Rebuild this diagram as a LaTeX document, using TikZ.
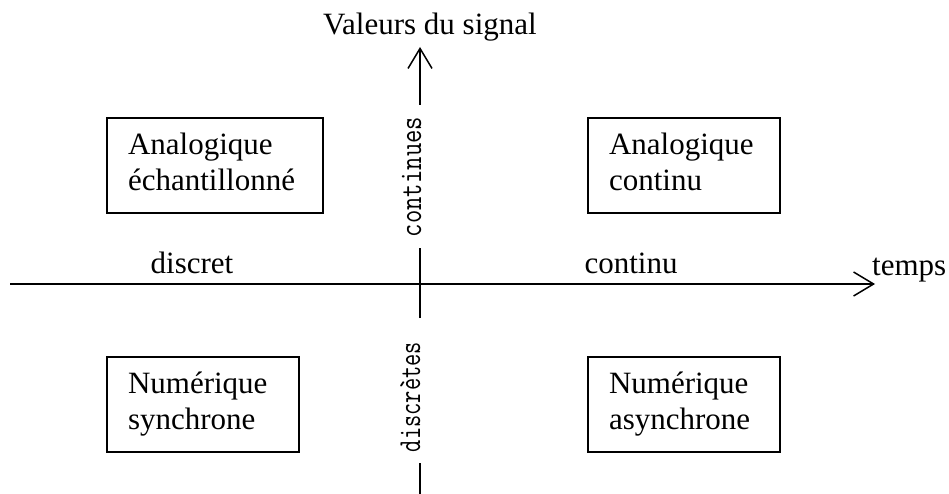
\documentclass[tikz,border=0pt]{standalone}
\usepackage{fontspec}
\usepackage{graphicx}
\setmainfont{Liberation Serif}
\usetikzlibrary{arrows.meta}
\begin{document}
\begin{tikzpicture}[x=1pt,y=-1pt,
  lbl/.style={font=\fontsize{31}{36}\selectfont, inner sep=0pt},
  box/.style={draw, line width=1.5pt, font=\fontsize{31}{36}\selectfont, align=flush left,
              inner xsep=21pt, inner ysep=0pt, minimum height=95pt},
  vlbl/.style={font=\ttfamily\fontsize{32}{36}\selectfont, rotate=90, inner sep=0pt, anchor=base},
  axis/.style={line width=1.5pt},
  arr/.style={-{Straight Barb[length=20pt,width=24pt]}}
]
\fill[white] (0,0) rectangle (949,494);
\useasboundingbox (0,0) rectangle (949,494);

% boxes
\node[box, text width=174pt] (as) at (215,165.5) {\strut Analogique\\ échantillonné\strut};
\node[box, text width=150pt] (ac) at (684,165.5) {\strut Analogique\\ continu\strut};
\node[box, text width=150pt] (ns) at (203,404.5) {\strut Numérique\\ synchrone\strut};
\node[box, text width=150pt] (na) at (684,404.5) {\strut Numérique\\ asynchrone\strut};

% labels
\node[lbl, anchor=base] (title) at (430,35) {Valeurs du signal};
\node[lbl, anchor=base] (disc) at (192,273) {discret};
\node[lbl, anchor=base] (cont) at (631,273) {continu};
\node[lbl, anchor=base west] (temps) at (872,275) {temps};

\node[vlbl] (vc) at (421,177) {\resizebox{120pt}{\height}{continues}};
\node[vlbl] (vd) at (420,397) {\resizebox{110pt}{\height}{discrètes}};

% axes
\coordinate (h0) at (10,284);
\coordinate (h1) at (875,284);
\draw[axis,arr] (h0) -- (h1);

\coordinate (v0) at (420,494);
\coordinate (v1) at (420,463);
\coordinate (v2) at (420,318);
\coordinate (v3) at (420,248);
\coordinate (v4) at (420,105);
\coordinate (v5) at (420,47);
\draw[axis] (v0) -- (v1);
\draw[axis] (v2) -- (v3);
\draw[axis,arr] (v4) -- (v5);
\end{tikzpicture}
\end{document}
